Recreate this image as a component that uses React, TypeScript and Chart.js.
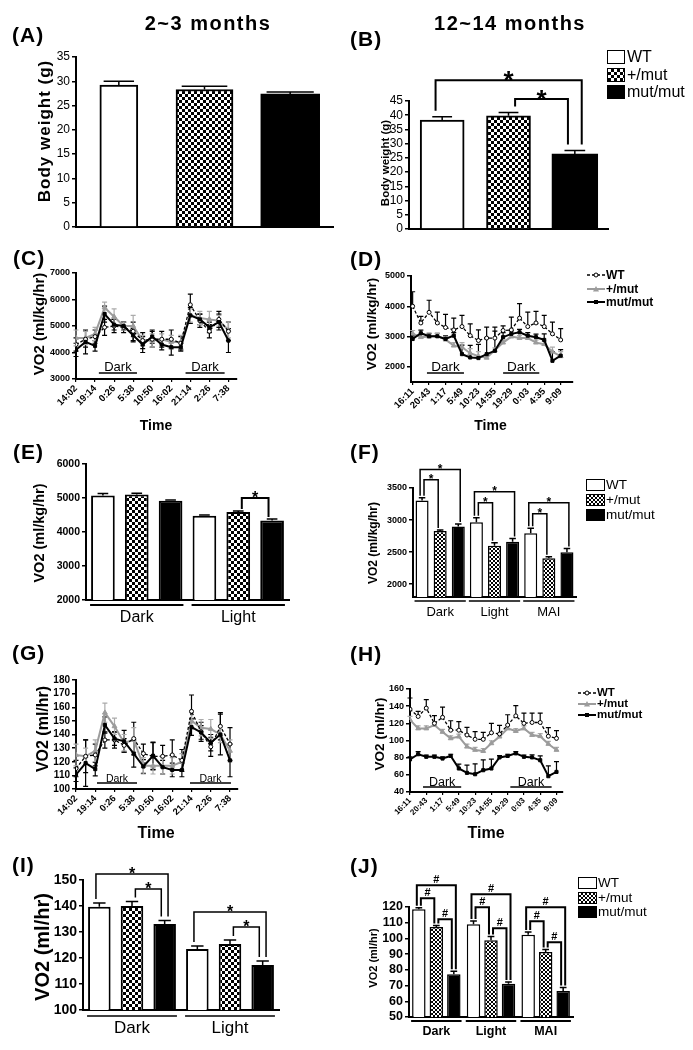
import React, { useEffect, useRef } from 'react';
import { Chart, registerables } from 'chart.js';

Chart.register(...registerables);

const FONT = "'Liberation Sans', Arial, Helvetica, sans-serif";
Chart.defaults.font.family = FONT;
Chart.defaults.color = '#000';

// ---------------- data ----------------
const genotypes = ['WT', '+/mut', 'mut/mut'];
const periods2 = ['Dark', 'Light'];
const periods3 = ['Dark', 'Light', 'MAI'];

// (A) body weight, 2~3 months
const aWeight = [29.2, 28.3, 27.4];
const aWeightErr = [0.8, 0.7, 0.4];
const aTicks = [0, 5, 10, 15, 20, 25, 30, 35];

// (B) body weight, 12~14 months
const bWeight = [38.3, 39.8, 26.4];
const bWeightErr = [1.2, 1.2, 1.2];
const bTicks = [0, 5, 10, 15, 20, 25, 30, 35, 40, 45];
const bSig = [
  { from: 0, to: 2, level: 52.3, mark: '*' },
  { from: 1, to: 2, level: 45.7, mark: '*' },
];

// (C) VO2 ml/kg/hr time course, 2~3 months
const times17 = ['14:02', '16:38', '19:14', '21:50', '0:26', '3:02', '5:38', '8:14', '10:50', '13:26', '16:02', '18:38', '21:14', '23:50', '2:26', '5:02', '7:38'];
const cWT = [4300, 4500, 4600, 4950, 5000, 4950, 4800, 4450, 4500, 4500, 4500, 4350, 5800, 5200, 4800, 5250, 4800];
const cWTErr = [250, 300, 250, 300, 250, 200, 350, 300, 300, 300, 350, 250, 400, 250, 250, 300, 350];
const cHet = [4550, 4550, 4700, 5700, 5350, 5000, 5000, 4450, 4450, 4500, 4400, 4400, 5400, 5300, 5250, 5200, 4850];
const cHetErr = [300, 250, 250, 200, 300, 150, 400, 200, 250, 200, 250, 250, 250, 250, 300, 200, 300];
const cMut = [4100, 4400, 4250, 5450, 5050, 5000, 4650, 4300, 4600, 4300, 4200, 4200, 5400, 5250, 4950, 5150, 4450];
const cMutErr = [250, 450, 200, 300, 200, 150, 250, 300, 250, 200, 300, 150, 300, 200, 200, 300, 450];
const cTicks = [3000, 4000, 5000, 6000, 7000];
const cDark = [[2.4, 6.4], [11.5, 15.6]];

// (D) VO2 ml/kg/hr time course, 12~14 months
const times19 = ['16:11', '18:27', '20:43', '23:00', '1:17', '3:33', '5:49', '8:06', '10:23', '12:39', '14:55', '17:12', '19:29', '21:46', '0:03', '2:19', '4:35', '6:52', '9:09'];
const dWT = [4000, 3450, 3800, 3450, 3300, 3220, 3330, 3030, 2870, 2950, 2950, 3200, 3220, 3610, 3330, 3450, 3330, 3090, 2890];
const dWTErr = [480, 220, 400, 360, 430, 390, 370, 390, 350, 360, 360, 150, 420, 480, 480, 380, 370, 390, 370];
const dHet = [3100, 2980, 3000, 3020, 2900, 2700, 2650, 2450, 2350, 2300, 2550, 2800, 3000, 2950, 2950, 2800, 2750, 2500, 2350];
const dHetErr = [100, 80, 80, 80, 80, 100, 150, 150, 150, 80, 80, 80, 80, 80, 80, 80, 100, 150, 150];
const dMut = [2920, 3110, 3010, 3010, 2920, 3030, 2420, 2310, 2290, 2420, 2530, 2980, 3090, 3140, 3030, 2980, 2890, 2200, 2370];
const dMutErr = [100, 100, 100, 100, 100, 100, 300, 400, 450, 550, 650, 150, 100, 100, 100, 100, 200, 300, 200];
const dTicks = [2000, 3000, 4000, 5000];
const dDark = [[1.74, 6.24], [11.0, 15.4]];

// (E) VO2 ml/kg/hr, 2~3 months
const eWT = [5070, 4480];
const eHet = [5100, 4590];
const eMut = [4920, 4340];
const eWTErr = [60, 20];
const eHetErr = [40, 30];
const eMutErr = [20, 40];
const eTicks = [2000, 3000, 4000, 5000, 6000];
const eSig = [{ group: 1, from: 1, to: 2, level: 5000, mark: '*' }];

// (F) VO2 ml/kg/hr, 12~14 months
const fWT = [3306, 2967, 2794];
const fHet = [2830, 2600, 2403];
const fMut = [2898, 2663, 2497];
const fWTErr = [40, 70, 80];
const fHetErr = [15, 45, 25];
const fMutErr = [40, 50, 60];
const fTicks = [2000, 2500, 3000, 3500];
const fSig = [
  { group: 0, from: 0, to: 2, level: 3787, mark: '*' },
  { group: 0, from: 0, to: 1, level: 3630, mark: '*' },
  { group: 1, from: 0, to: 2, level: 3442, mark: '*' },
  { group: 1, from: 0, to: 1, level: 3270, mark: '*' },
  { group: 2, from: 0, to: 2, level: 3270, mark: '*' },
  { group: 2, from: 0, to: 1, level: 3097, mark: '*' },
];

// (G) VO2 ml/hr time course, 2~3 months
const gWT = [115, 124, 125, 136, 136, 132, 137, 126, 124, 124, 125, 121, 157, 142, 131, 146, 133];
const gWTErr = [6, 12, 8, 6, 6, 5, 12, 7, 10, 8, 11, 8, 12, 7, 7, 10, 12];
const gHet = [125, 124, 128, 156, 146, 134, 136, 117, 117, 117, 117, 120, 150, 145, 144, 140, 128];
const gHetErr = [8, 6, 8, 7, 6, 6, 9, 6, 6, 6, 6, 6, 6, 6, 7, 6, 8];
const gMut = [110.5, 119, 114.6, 147, 137, 135, 126, 116.5, 124.4, 116, 114, 114, 145.4, 141.5, 134, 140, 121];
const gMutErr = [5, 17, 5, 6, 5, 8, 10, 5, 10, 5, 5, 5, 6, 5, 6, 15, 12];
const gTicks = [100, 110, 120, 130, 140, 150, 160, 170, 180];
const gDark = [[2.18, 6.34], [11.84, 16.1]];

// (H) VO2 ml/hr time course, 12~14 months
const hWT = [136.5, 128, 137.7, 120, 127, 112, 112, 106.4, 101.4, 101.4, 109, 107.6, 118, 128.7, 120, 121, 121, 105, 102.5];
const hWTErr = [13, 6, 10, 9, 12, 11, 10, 9, 9, 8, 11, 10, 12, 12, 12, 11, 11, 10, 9];
const hHet = [124, 114, 114, 118, 110, 102.5, 104.5, 92.8, 89, 87.7, 96.7, 104.5, 114, 111, 114, 106.4, 105, 96, 89];
const hHetErr = [4, 3, 3, 3, 3, 3, 3, 3, 3, 3, 3, 3, 3, 3, 3, 3, 3, 3, 3];
const hMut = [78, 84, 81, 81, 79, 82, 67.4, 62.3, 60.7, 65.4, 67.4, 80.3, 82, 85, 81, 80.3, 77, 58.4, 63.4];
const hMutErr = [3, 3, 2, 2, 2, 2, 5, 9, 12, 12, 11, 2, 2, 2, 2, 3, 5, 12, 12];
const hTicks = [40, 60, 80, 100, 120, 140, 160];
const hDark = [[1.6, 6.29], [12.33, 17.4]];

// (I) VO2 ml/hr, 2~3 months
const iWT = [139.7, 123.5];
const iHet = [140.0, 125.4];
const iMut = [133.1, 117.3];
const iWTErr = [1.5, 1.1];
const iHetErr = [1.7, 1.5];
const iMutErr = [1.3, 1.5];
const iTicks = [100, 110, 120, 130, 140, 150];
const iSig = [
  { group: 0, from: 0, to: 2, level: 152.3, mark: '*' },
  { group: 0, from: 1, to: 2, level: 146.5, mark: '*' },
  { group: 1, from: 0, to: 2, level: 137.7, mark: '*' },
  { group: 1, from: 1, to: 2, level: 131.9, mark: '*' },
];

// (J) VO2 ml/hr, 12~14 months
const jWT = [118.5, 109.0, 102.4];
const jHet = [107.3, 98.8, 91.4];
const jMut = [77.2, 71.2, 66.6];
const jWTErr = [1.0, 2.1, 1.7];
const jHetErr = [1.0, 2.5, 1.5];
const jMutErr = [1.9, 1.0, 2.1];
const jTicks = [50, 60, 70, 80, 90, 100, 110, 120];
const jSig = [
  { group: 0, from: 0, to: 2, level: 133.8, mark: '#' },
  { group: 0, from: 0, to: 1, level: 125.5, mark: '#' },
  { group: 0, from: 1, to: 2, level: 112.2, mark: '#' },
  { group: 1, from: 0, to: 2, level: 128.1, mark: '#' },
  { group: 1, from: 0, to: 1, level: 119.8, mark: '#' },
  { group: 1, from: 1, to: 2, level: 106.4, mark: '#' },
  { group: 2, from: 0, to: 2, level: 119.8, mark: '#' },
  { group: 2, from: 0, to: 1, level: 110.9, mark: '#' },
  { group: 2, from: 1, to: 2, level: 97.5, mark: '#' },
];

// ---------------- helpers ----------------
const ML = 50, MT = 50, MR = 18, MB = 48;

function makePattern(cell: number): any {
  const c = document.createElement('canvas');
  c.width = cell * 2;
  c.height = cell * 2;
  const g = c.getContext('2d')!;
  g.fillStyle = '#fff';
  g.fillRect(0, 0, cell * 2, cell * 2);
  g.fillStyle = '#000';
  g.fillRect(0, 0, cell, cell);
  g.fillRect(cell, cell, cell, cell);
  return g.createPattern(c, 'repeat');
}

function valOf(d: any) {
  if (d == null) return null;
  return typeof d === 'number' ? d : d.y;
}

function drawErrors(chart: any) {
  const ctx = chart.ctx;
  const ys = chart.scales.y;
  chart.data.datasets.forEach((ds: any, di: number) => {
    if (!ds.errors) return;
    const meta = chart.getDatasetMeta(di);
    ctx.save();
    ctx.strokeStyle = ds.errColor || '#000';
    ctx.lineWidth = ds.errWidth || 1.5;
    ctx.setLineDash([]);
    meta.data.forEach((el: any, i: number) => {
      const v = valOf(ds.data[i]);
      const e = ds.errors[i];
      if (v == null || !e) return;
      const x = el.x;
      const cw = ds.capW != null ? ds.capW : el.width * ds.capFrac;
      const y0 = ys.getPixelForValue(v);
      const ends = ds.errDir === 'both' ? [v + e, v - e] : [v + e];
      ends.forEach((t) => {
        const yt = ys.getPixelForValue(t);
        ctx.beginPath();
        ctx.moveTo(x, y0);
        ctx.lineTo(x, yt);
        ctx.moveTo(x - cw / 2, yt);
        ctx.lineTo(x + cw / 2, yt);
        ctx.stroke();
      });
    });
    ctx.restore();
  });
}

function drawMark(ctx: any, mark: string, x: number, yl: number, fs: number) {
  ctx.save();
  ctx.font = `bold ${fs}px ${FONT}`;
  ctx.textAlign = 'center';
  ctx.textBaseline = 'alphabetic';
  ctx.fillStyle = '#000';
  const base = mark === '*' ? yl + 0.38 * fs - 1 : yl - 2;
  ctx.fillText(mark, x, base);
  ctx.restore();
}

function bracketPlugin(sig: any[], single: boolean, fs: number, lw: number, gap: number) {
  return {
    id: 'brackets',
    afterDatasetsDraw(chart: any) {
      const ctx = chart.ctx;
      const ys = chart.scales.y;
      sig.forEach((b) => {
        const ia = single ? b.from : b.group;
        const ib = single ? b.to : b.group;
        const ea = chart.getDatasetMeta(b.from).data[ia];
        const eb = chart.getDatasetMeta(b.to).data[ib];
        const da = chart.data.datasets[b.from];
        const db = chart.data.datasets[b.to];
        const va = valOf(da.data[ia]) + da.errors[ia];
        const vb = valOf(db.data[ib]) + db.errors[ib];
        const outer = b.to - b.from > 1;
        const xa = ea.x + (outer ? -0.15 : 0.15) * ea.width;
        const xb = eb.x + (outer ? 0.15 : -0.15) * eb.width;
        const yl = ys.getPixelForValue(b.level);
        const ya = ys.getPixelForValue(va) - gap;
        const yb = ys.getPixelForValue(vb) - gap;
        ctx.save();
        ctx.strokeStyle = '#000';
        ctx.lineWidth = lw;
        ctx.lineJoin = 'miter';
        ctx.beginPath();
        ctx.moveTo(xa, ya);
        ctx.lineTo(xa, yl);
        ctx.lineTo(xb, yl);
        ctx.lineTo(xb, yb);
        ctx.stroke();
        ctx.restore();
        drawMark(ctx, b.mark, (xa + xb) / 2, yl, fs);
      });
    },
  };
}

function groupPlugin(labels: string[], font: string, underGap: number, textGap: number, lw: number) {
  return {
    id: 'groups',
    afterDraw(chart: any) {
      const ctx = chart.ctx;
      const m0 = chart.getDatasetMeta(0);
      const m2 = chart.getDatasetMeta(2);
      const y = chart.chartArea.bottom + underGap;
      labels.forEach((lab, j) => {
        const e0 = m0.data[j];
        const e2 = m2.data[j];
        const x0 = e0.x - e0.width / 2 - 1;
        const x1 = e2.x + e2.width / 2 + 1;
        ctx.save();
        ctx.strokeStyle = '#000';
        ctx.lineWidth = lw;
        ctx.beginPath();
        ctx.moveTo(x0, y);
        ctx.lineTo(x1, y);
        ctx.stroke();
        ctx.font = font;
        ctx.fillStyle = '#000';
        ctx.textAlign = 'center';
        ctx.textBaseline = 'middle';
        ctx.fillText(lab, (x0 + x1) / 2, y + textGap);
        ctx.restore();
      });
    },
  };
}

function darkPlugin(bands: number[][], level: number, fs: number) {
  return {
    id: 'darkBands',
    afterDatasetsDraw(chart: any) {
      const ctx = chart.ctx;
      const xs = chart.scales.x;
      const ys = chart.scales.y;
      const y = ys.getPixelForValue(level);
      bands.forEach(([a, b]) => {
        const x0 = xs.getPixelForValue(a);
        const x1 = xs.getPixelForValue(b);
        ctx.save();
        ctx.strokeStyle = '#000';
        ctx.lineWidth = 1.5;
        ctx.setLineDash([]);
        ctx.beginPath();
        ctx.moveTo(x0, y);
        ctx.lineTo(x1, y);
        ctx.stroke();
        ctx.font = `${fs}px ${FONT}`;
        ctx.fillStyle = '#000';
        ctx.textAlign = 'center';
        ctx.textBaseline = 'alphabetic';
        ctx.fillText('Dark', (x0 + x1) / 2, y - 1.5);
        ctx.restore();
      });
    },
  };
}

function yScale(min: number, max: number, ticks: number[], font: any) {
  return {
    type: 'linear',
    min,
    max,
    afterBuildTicks: (s: any) => {
      s.ticks = ticks.map((v) => ({ value: v }));
    },
    afterFit: (s: any) => {
      s.width = ML;
    },
    ticks: { font, color: '#000', padding: 2, autoSkip: false, callback: (v: any) => String(v) },
    grid: { drawOnChartArea: false, drawTicks: true, tickLength: 4, color: '#000', lineWidth: 1.5 },
    border: { display: true, color: '#000', width: 2 },
  };
}

function baseOptions(x: any, y: any) {
  return {
    responsive: false,
    animation: false,
    devicePixelRatio: 1,
    events: [],
    layout: { padding: { left: 0, top: MT, right: MR, bottom: 0 } },
    plugins: { legend: { display: false }, tooltip: { enabled: false }, title: { display: false } },
    scales: { x, y },
  };
}

function barConfig(o: any) {
  const fills = ['#ffffff', makePattern(o.cell), '#000000'];
  const datasets = o.series.map((s: any[], i: number) => {
    const ds: any = {
      label: genotypes[i],
      data: s,
      errors: o.errs[i],
      backgroundColor: fills[i],
      borderColor: '#000',
      borderWidth: o.borderW,
      borderSkipped: 'start',
      barPercentage: o.barPct,
      categoryPercentage: o.catPct,
      skipNull: true,
      capFrac: o.capFrac,
      errWidth: 1.5,
      errDir: 'up',
    };
    if (o.thickness) ds.barThickness = o.thickness[i];
    return ds;
  });
  const x = {
    type: 'category',
    offset: true,
    z: 1,
    afterFit: (s: any) => {
      s.height = MB;
    },
    ticks: { display: false },
    grid: { display: false, drawTicks: false },
    border: { display: true, color: '#000', width: 2 },
  };
  const plugins: any[] = [
    { id: 'errs', afterDatasetsDraw: drawErrors },
    bracketPlugin(o.sig, o.single, o.markFs, o.sigW, o.sigGap),
  ];
  if (o.groupFont) plugins.push(groupPlugin(o.labels, o.groupFont, o.underGap, o.textGap, o.underW));
  return {
    type: 'bar',
    data: { labels: o.labels, datasets },
    options: baseOptions(x, yScale(o.yMin, o.yMax, o.yTicks, o.yFont)),
    plugins,
  };
}

function singleSeries(vals: number[]) {
  return vals.map((v, i) => vals.map((_, j) => (j === i ? v : null)));
}

function lineConfig(o: any) {
  const pts = (a: number[]) => a.map((v, i) => ({ x: i, y: v }));
  const common = { tension: 0, fill: false, errDir: o.errDir, capW: 5, errWidth: 1.2 };
  const datasets = [
    {
      ...common, label: 'mut/mut', data: pts(o.mut), errors: o.mutErr, borderColor: '#000', borderWidth: 2,
      pointStyle: 'rect', pointRadius: 2.2, pointBackgroundColor: '#000', pointBorderColor: '#000', pointBorderWidth: 1, errColor: '#000',
    },
    {
      ...common, label: 'WT', data: pts(o.wt), errors: o.wtErr, borderColor: '#000', borderWidth: 1.3, borderDash: [3, 2],
      pointStyle: 'circle', pointRadius: 2, pointBackgroundColor: '#fff', pointBorderColor: '#000', pointBorderWidth: 1, errColor: '#000',
    },
    {
      ...common, label: '+/mut', data: pts(o.het), errors: o.hetErr, borderColor: '#9c9c9c', borderWidth: 2,
      pointStyle: 'triangle', pointRadius: 2.8, pointBackgroundColor: '#9c9c9c', pointBorderColor: '#9c9c9c', pointBorderWidth: 1, errColor: '#ababab',
    },
  ];
  const xt = o.times.map((_: any, i: number) => i).filter((i: number) => i % 2 === 0);
  const x = {
    type: 'linear',
    min: o.xMin,
    max: o.xMax,
    z: 1,
    afterBuildTicks: (s: any) => {
      s.ticks = xt.map((v: number) => ({ value: v }));
    },
    afterFit: (s: any) => {
      s.height = MB;
    },
    ticks: {
      autoSkip: false, minRotation: 45, maxRotation: 45, font: o.xFont, color: '#000', padding: 1,
      callback: (v: any) => o.times[v] ?? '',
    },
    grid: { drawOnChartArea: false, drawTicks: true, tickLength: 3, color: '#000', lineWidth: 1.2 },
    border: { display: true, color: '#000', width: 2 },
  };
  return {
    type: 'line',
    data: { datasets },
    options: baseOptions(x, yScale(o.yMin, o.yMax, o.yTicks, o.yFont)),
    plugins: [{ id: 'errs', beforeDatasetsDraw: drawErrors }, darkPlugin(o.bands, o.bandLevel, o.bandFs)],
  };
}

// ---------------- components ----------------
function ChartBox({ rect, build }: any) {
  const ref = useRef<HTMLCanvasElement>(null);
  const w = rect.R - rect.L + ML + MR;
  const h = rect.B - rect.T + MT + MB;
  useEffect(() => {
    const chart = new Chart(ref.current as any, build() as any);
    return () => chart.destroy();
  }, []);
  return (
    <canvas
      ref={ref}
      width={w}
      height={h}
      style={{ position: 'absolute', left: rect.L - ML, top: rect.T - MT, width: w, height: h }}
    />
  );
}

function Txt({ x, y, fs, bold = true, rot = false, ls = 0, children }: any) {
  return (
    <div
      style={{
        position: 'absolute', left: x, top: y, fontSize: fs, fontWeight: bold ? 'bold' : 'normal',
        lineHeight: 1, whiteSpace: 'nowrap', letterSpacing: ls,
        transform: `translate(-50%, -50%)${rot ? ' rotate(-90deg)' : ''}`,
      }}
    >
      {children}
    </div>
  );
}

function Letter({ x, y, children }: any) {
  return (
    <div style={{ position: 'absolute', left: x, top: y, transform: 'translateY(-50%)', fontSize: 21, fontWeight: 'bold', lineHeight: 1, letterSpacing: 1, whiteSpace: 'nowrap' }}>
      {children}
    </div>
  );
}

const checkerCss = (cell: number) => ({
  backgroundImage: 'repeating-conic-gradient(#000 0 25%, #fff 0 50%)',
  backgroundSize: `${cell * 2}px ${cell * 2}px`,
});

function BoxLegend({ x, tops, bw, bh, fs, tx, cell }: any) {
  const fills = [{ background: '#fff' }, checkerCss(cell), { background: '#000' }];
  return (
    <>
      {genotypes.map((g, i) => (
        <React.Fragment key={g}>
          <div style={{ position: 'absolute', left: x, top: tops[i], width: bw, height: bh, border: '1.5px solid #000', boxSizing: 'border-box', ...fills[i] }} />
          <div style={{ position: 'absolute', left: tx, top: tops[i] + bh / 2, transform: 'translateY(-50%)', fontSize: fs, lineHeight: 1, whiteSpace: 'nowrap' }}>{g}</div>
        </React.Fragment>
      ))}
    </>
  );
}

function LineSample({ kind, w }: any) {
  const y = 5;
  if (kind === 0)
    return (
      <svg width={w} height={10}>
        <line x1={0} x2={w} y1={y} y2={y} stroke="#000" strokeWidth={1.4} strokeDasharray="3 2" />
        <circle cx={w / 2} cy={y} r={2} fill="#fff" stroke="#000" strokeWidth={1} />
      </svg>
    );
  if (kind === 1)
    return (
      <svg width={w} height={10}>
        <line x1={0} x2={w} y1={y} y2={y} stroke="#9c9c9c" strokeWidth={2} />
        <polygon points={`${w / 2 - 3},${y + 2.5} ${w / 2 + 3},${y + 2.5} ${w / 2},${y - 3}`} fill="#9c9c9c" />
      </svg>
    );
  return (
    <svg width={w} height={10}>
      <line x1={0} x2={w} y1={y} y2={y} stroke="#000" strokeWidth={2} />
      <rect x={w / 2 - 2} y={y - 2} width={4} height={4} fill="#000" />
    </svg>
  );
}

function LineLegend({ x, ys, w, tx, fs }: any) {
  return (
    <>
      {genotypes.map((g, i) => (
        <React.Fragment key={g}>
          <div style={{ position: 'absolute', left: x, top: ys[i] - 5, width: w, height: 10, lineHeight: 0 }}>
            <LineSample kind={i} w={w} />
          </div>
          <div style={{ position: 'absolute', left: tx, top: ys[i], transform: 'translateY(-50%)', fontSize: fs, fontWeight: 'bold', lineHeight: 1, whiteSpace: 'nowrap' }}>{g}</div>
        </React.Fragment>
      ))}
    </>
  );
}

const bold = (px: number) => ({ size: px, weight: 'bold' as const, family: FONT });
const normal = (px: number) => ({ size: px, weight: 'normal' as const, family: FONT });

export default function App() {
  const rA = { L: 76, T: 57, R: 333, B: 227 };
  const rB = { L: 409, T: 101, R: 608, B: 229 };
  const rC = { L: 76, T: 273, R: 237, B: 379 };
  const rD = { L: 411, T: 276, R: 573, B: 382 };
  const rE = { L: 86, T: 464, R: 289, B: 600 };
  const rF = { L: 413, T: 488, R: 576, B: 597 };
  const rG = { L: 76, T: 680, R: 238, B: 789 };
  const rH = { L: 410, T: 689, R: 563, B: 792 };
  const rI = { L: 83, T: 880, R: 279, B: 1010 };
  const rJ = { L: 409, T: 907, R: 573, B: 1017 };

  return (
    <div style={{ position: 'absolute', left: 0, top: 0, width: 693, height: 1050, background: '#fff', fontFamily: FONT, color: '#000', overflow: 'hidden' }}>
      <ChartBox rect={rA} build={() => barConfig({
        single: true, labels: genotypes, series: singleSeries(aWeight), errs: singleSeries(aWeightErr),
        yMin: 0, yMax: 35, yTicks: aTicks, yFont: normal(12), cell: 3, barPct: 0.68, catPct: 1, thickness: [38, 57, 59],
        capFrac: 0.8, borderW: 2, sig: [], markFs: 24, sigW: 2, sigGap: 6,
      })} />
      <ChartBox rect={rB} build={() => barConfig({
        single: true, labels: genotypes, series: singleSeries(bWeight), errs: singleSeries(bWeightErr),
        yMin: 0, yMax: 45, yTicks: bTicks, yFont: normal(12), cell: 3, barPct: 0.66, catPct: 1, thickness: [44, 44, 46],
        capFrac: 0.45, borderW: 2, sig: bSig, markFs: 26, sigW: 2, sigGap: 6,
      })} />
      <ChartBox rect={rC} build={() => lineConfig({
        times: times17, xMin: 0, xMax: 16.9, xFont: bold(9.5), yMin: 3000, yMax: 7000, yTicks: cTicks, yFont: bold(9),
        wt: cWT, wtErr: cWTErr, het: cHet, hetErr: cHetErr, mut: cMut, mutErr: cMutErr, errDir: 'both',
        bands: cDark, bandLevel: 3230, bandFs: 13,
      })} />
      <ChartBox rect={rD} build={() => lineConfig({
        times: times19, xMin: -0.2, xMax: 19.5, xFont: bold(9.5), yMin: 1500, yMax: 5000, yTicks: dTicks, yFont: bold(9),
        wt: dWT, wtErr: dWTErr, het: dHet, hetErr: dHetErr, mut: dMut, mutErr: dMutErr, errDir: 'up',
        bands: dDark, bandLevel: 1800, bandFs: 13.5,
      })} />
      <ChartBox rect={rE} build={() => barConfig({
        single: false, labels: periods2, series: [eWT, eHet, eMut], errs: [eWTErr, eHetErr, eMutErr],
        yMin: 2000, yMax: 6000, yTicks: eTicks, yFont: bold(10.5), cell: 3, barPct: 0.7, catPct: 1,
        capFrac: 0.45, borderW: 2, sig: eSig, markFs: 16, sigW: 2, sigGap: 2,
        groupFont: `16px ${FONT}`, underGap: 5, textGap: 13, underW: 2,
      })} />
      <ChartBox rect={rF} build={() => barConfig({
        single: false, labels: periods3, series: [fWT, fHet, fMut], errs: [fWTErr, fHetErr, fMutErr],
        yMin: 1800, yMax: 3500, yTicks: fTicks, yFont: bold(9), cell: 2, barPct: 0.72, catPct: 1,
        capFrac: 0.5, borderW: 1.5, sig: fSig, markFs: 12, sigW: 1.5, sigGap: 2,
        groupFont: `13px ${FONT}`, underGap: 4, textGap: 11, underW: 1.5,
      })} />
      <ChartBox rect={rG} build={() => lineConfig({
        times: times17, xMin: 0, xMax: 16.83, xFont: bold(9.3), yMin: 100, yMax: 180, yTicks: gTicks, yFont: bold(10),
        wt: gWT, wtErr: gWTErr, het: gHet, hetErr: gHetErr, mut: gMut, mutErr: gMutErr, errDir: 'both',
        bands: gDark, bandLevel: 104.4, bandFs: 10.5,
      })} />
      <ChartBox rect={rH} build={() => lineConfig({
        times: times19, xMin: 0, xMax: 18.8, xFont: bold(8), yMin: 40, yMax: 160, yTicks: hTicks, yFont: bold(9),
        wt: hWT, wtErr: hWTErr, het: hHet, hetErr: hHetErr, mut: hMut, mutErr: hMutErr, errDir: 'up',
        bands: hDark, bandLevel: 45.8, bandFs: 12.5,
      })} />
      <ChartBox rect={rI} build={() => barConfig({
        single: false, labels: periods2, series: [iWT, iHet, iMut], errs: [iWTErr, iHetErr, iMutErr],
        yMin: 100, yMax: 150, yTicks: iTicks, yFont: bold(14), cell: 3, barPct: 0.69, catPct: 1,
        capFrac: 0.55, borderW: 2, sig: iSig, markFs: 16, sigW: 1.5, sigGap: 4,
        groupFont: `17px ${FONT}`, underGap: 6, textGap: 12, underW: 1.5,
      })} />
      <ChartBox rect={rJ} build={() => barConfig({
        single: false, labels: periods3, series: [jWT, jHet, jMut], errs: [jWTErr, jHetErr, jMutErr],
        yMin: 50, yMax: 120, yTicks: jTicks, yFont: bold(12.5), cell: 2, barPct: 0.77, catPct: 0.96,
        capFrac: 0.5, borderW: 1.5, sig: jSig, markFs: 11, sigW: 2, sigGap: 2,
        groupFont: `bold 12.5px ${FONT}`, underGap: 4, textGap: 11, underW: 2,
      })} />

      {/* panel letters */}
      <Letter x={12} y={34}>(A)</Letter>
      <Letter x={350} y={38}>(B)</Letter>
      <Letter x={13} y={256.5}>(C)</Letter>
      <Letter x={350} y={257.5}>(D)</Letter>
      <Letter x={13} y={451}>(E)</Letter>
      <Letter x={350} y={451}>(F)</Letter>
      <Letter x={12} y={651.5}>(G)</Letter>
      <Letter x={350} y={653}>(H)</Letter>
      <Letter x={12} y={864}>(I)</Letter>
      <Letter x={350} y={865}>(J)</Letter>

      {/* column headers */}
      <Txt x={208} y={22.5} fs={20} ls={1.5}>2~3 months</Txt>
      <Txt x={510} y={22.5} fs={20} ls={1.5}>12~14 months</Txt>

      {/* y-axis titles */}
      <Txt x={43.5} y={131} fs={17} ls={1} rot>Body weight (g)</Txt>
      <Txt x={385.5} y={163} fs={11.5} rot>Body weight (g)</Txt>
      <Txt x={38} y={324} fs={15} rot>VO2 (ml/kg/hr)</Txt>
      <Txt x={372} y={323.5} fs={13.5} rot>VO2 (ml/kg/hr)</Txt>
      <Txt x={38.5} y={533} fs={14.5} rot>VO2 (ml/kg/hr)</Txt>
      <Txt x={373} y={543} fs={12} rot>VO2 (ml/kg/hr)</Txt>
      <Txt x={42.5} y={729} fs={16} rot>VO2 (ml/hr)</Txt>
      <Txt x={380} y={734} fs={13.5} rot>VO2 (ml/hr)</Txt>
      <Txt x={41.5} y={947} fs={20} rot>VO2 (ml/hr)</Txt>
      <Txt x={373} y={958} fs={11} rot>VO2 (ml/hr)</Txt>

      {/* x-axis titles */}
      <Txt x={156} y={425} fs={14}>Time</Txt>
      <Txt x={490.5} y={425} fs={14}>Time</Txt>
      <Txt x={156} y={833} fs={16}>Time</Txt>
      <Txt x={486} y={833} fs={16}>Time</Txt>

      {/* legends */}
      <BoxLegend x={607} tops={[50, 68, 85]} bw={18} bh={13.5} fs={16} tx={627} cell={3} />
      <BoxLegend x={586} tops={[479, 494, 509]} bw={19} bh={11.5} fs={13.5} tx={606} cell={2} />
      <BoxLegend x={578} tops={[877, 892, 906]} bw={19} bh={11.5} fs={13.5} tx={598} cell={2} />
      <LineLegend x={587} ys={[275, 289, 302]} w={18} tx={606} fs={12} />
      <LineLegend x={578} ys={[693, 703.5, 715]} w={18} tx={597} fs={11.5} />
    </div>
  );
}
